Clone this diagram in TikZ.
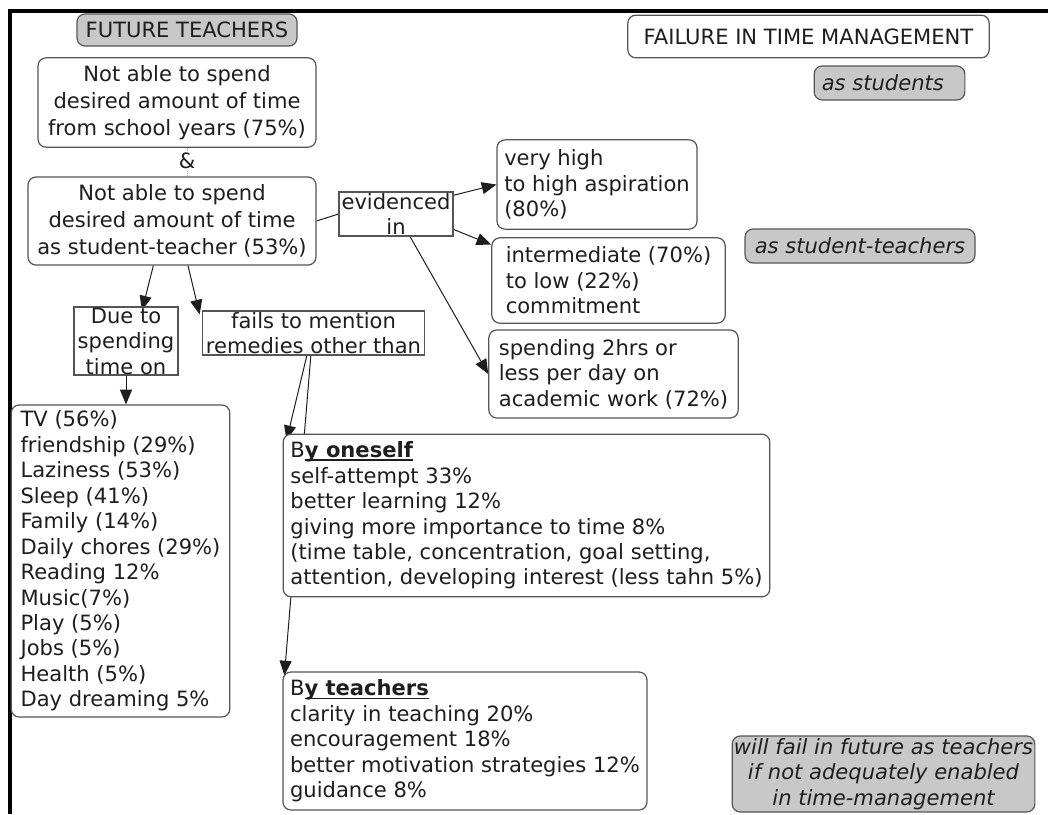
\documentclass[tikz,border=0pt]{standalone}
\usepackage{fontspec}
\setmainfont{DejaVu Sans}
\usepackage{xcolor}
\usetikzlibrary{arrows.meta,backgrounds}

\definecolor{edgegray}{RGB}{85,85,85}
\definecolor{shadegray}{RGB}{200,200,200}
\definecolor{inkblack}{RGB}{30,30,30}

\newcommand{\bodyfont}{\fontsize{15.8}{19.1}\selectfont}
\newcommand{\headfont}{\fontsize{15.8}{20.3}\selectfont}
% underline close to the baseline
\newcommand{\baseul}[1]{\setbox0\hbox{#1}\rlap{\rule[-2.2pt]{\wd0}{0.9pt}}\box0}

\tikzset{
  rbox/.style={draw=edgegray, line width=0.9pt, rounded corners=6pt, fill=white, text=inkblack, inner sep=0pt, align=center, font=\bodyfont},
  lbox/.style={rbox, align=left},
  gbox/.style={rbox, fill=shadegray},
  sbox/.style={draw=edgegray, line width=0.8pt, fill=white, text=inkblack, inner sep=0pt, align=center, font=\bodyfont},
  conn/.style={draw=inkblack, line width=0.75pt},
  arr/.style={conn, -{Triangle[length=11pt,width=9pt]}},
}

\begin{document}
\begin{tikzpicture}[x=0.75pt,y=0.75pt,yscale=-1,xscale=1]
    \useasboundingbox (0,0) rectangle (1048,814);

    %Frame
    \draw[line width=2.4pt] (10,814) -- (10,11) -- (1048,11);

    %Headings
    \node[gbox, font=\headfont, minimum width=165pt, minimum height=24pt] (future) at (187,30) {FUTURE TEACHERS};
    \node[rbox, font=\headfont, minimum width=271pt, minimum height=32pt] (failure) at (808.5,36.5) {FAILURE IN TIME MANAGEMENT};
    \node[gbox, font=\bodyfont\itshape, minimum width=113pt, minimum height=25.5pt] (asstud) at (889.5,83) {as students\hspace{10pt}};
    \node[gbox, font=\bodyfont\itshape, minimum width=172.5pt, minimum height=25.5pt] (asstteach) at (860,246) {as student-teachers};
    \node[gbox, font=\bodyfont\itshape, minimum width=227pt, minimum height=57pt] (willfail) at (883.5,774) {will fail in future as teachers\\if not adequately enabled\\in time-management};

    %Left column
    \node[rbox, font=\headfont, minimum width=208.5pt, minimum height=67pt] (school) at (177,102.5) {Not able to spend\\desired amount of time\\from school years (75\%)};
    \node[fill=white, inner sep=1pt, text=inkblack, font=\bodyfont] (amp) at (187,161) {\&};
    \node[rbox, font=\headfont, minimum width=216pt, minimum height=66pt] (stteach) at (172,221) {Not able to spend\\desired amount of time\\as student-teacher (53\%)};
    \node[sbox, minimum width=78pt, minimum height=51pt] (due) at (126,341) {Due to\\spending\\time on};
    \node[sbox, minimum width=166pt, minimum height=33pt] (fails) at (313.5,333) {fails to mention\\remedies other than};
    \node[lbox, minimum width=164pt, minimum height=234pt] (tv) at (120.5,561) {TV (56\%)\\friendship (29\%)\\Laziness (53\%)\\Sleep (41\%)\\Family (14\%)\\Daily chores (29\%)\\Reading 12\%\\Music(7\%)\\Play (5\%)\\Jobs (5\%)\\Health (5\%)\\Day dreaming 5\%};

    %Evidence
    \node[sbox, minimum width=85.5pt, minimum height=33pt] (evid) at (396,214) {evidenced\\in};
    \node[lbox, minimum width=150pt, minimum height=67pt] (aspir) at (597,184.5) {very high\\to high aspiration\\(80\%)};
    \node[lbox, minimum width=175pt, minimum height=64pt] (commit) at (608.5,280.5) {intermediate (70\%)\\to low (22\%)\\commitment\hspace{38pt}};
    \node[lbox, minimum width=187pt, minimum height=66pt] (hours) at (613.5,374) {spending 2hrs or\\less per day on\\academic work (72\%)};

    %Remedies
    \node[lbox, minimum width=365pt, minimum height=122pt] (oneself) at (526.5,515.5) {B\baseul{\textbf{y oneself}}\\self-attempt 33\%\\better learning 12\%\\giving more importance to time 8\%\\(time table, concentration, goal setting,\\attention, developing interest (less tahn 5\%)};
    \node[lbox, minimum width=273pt, minimum height=103.5pt] (teachers) at (465,741) {B\baseul{\textbf{y teachers}}\\clarity in teaching 20\%\\encouragement 18\%\\better motivation strategies 12\%\\guidance 8\%};

    %Connectors
    \begin{scope}[on background layer]
    \draw[conn, draw=gray!60, line width=0.5pt, densely dotted] (school.south -| amp) -- (amp.north);
    \draw[conn, draw=gray!60, line width=0.5pt, densely dotted] (amp.south) -- (stteach.north -| amp);
    \draw[conn] (stteach.east) -- (evid.west);
    \draw[arr] (evid.18) -- (aspir.west);
    \draw[arr] (evid.-15) -- (commit.163);
    \draw[arr] ([xshift=10.5pt]evid.south) -- (hours.west);
    \draw[arr] ([xshift=-14pt]stteach.south) -- ([xshift=12pt,yshift=3pt]due.north);
    \draw[arr] ([xshift=12pt]stteach.south) -- ([xshift=-2pt,yshift=3pt]fails.north west);
    \draw[arr] (due.south) -- (due.south |- tv.north);
    \draw[arr] ([xshift=-5pt]fails.south) -- ([xshift=3pt,yshift=5pt]oneself.north west);
    \draw[arr] ([xshift=-2pt]fails.south) -- ([xshift=1.5pt,yshift=3pt]teachers.north west);
    \end{scope}
\end{tikzpicture}
\end{document}
